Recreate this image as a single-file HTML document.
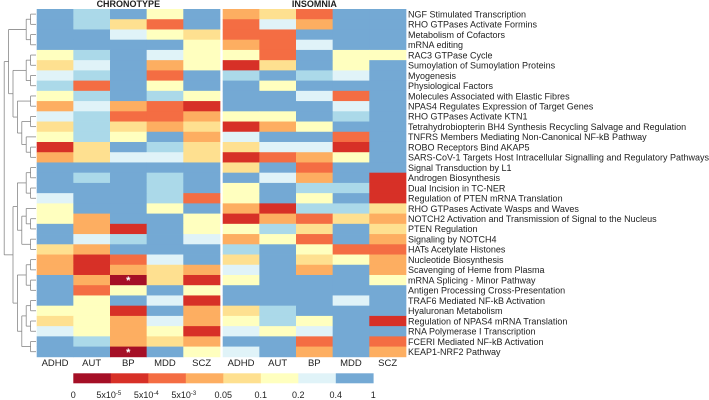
<!DOCTYPE html>
<html><head><meta charset="utf-8"><style>
body{margin:0;background:#fff;}
svg{display:block;font-family:"Liberation Sans",sans-serif;}
</style></head><body>
<svg id="chart" width="709" height="400" viewBox="0 0 709 400"></svg>
<script>
const pathways=["NGF Stimulated Transcription","RHO GTPases Activate Formins","Metabolism of Cofactors","mRNA editing","RAC3 GTPase Cycle","Sumoylation of Sumoylation Proteins","Myogenesis","Physiological Factors","Molecules Associated with Elastic Fibres","NPAS4 Regulates Expression of Target Genes","RHO GTPases Activate KTN1","Tetrahydrobiopterin BH4 Synthesis Recycling Salvage and Regulation","TNFRS Members Mediating Non-Canonical NF-kB Pathway","ROBO Receptors Bind AKAP5","SARS-CoV-1 Targets Host Intracellular Signalling and Regulatory Pathways","Signal Transduction by L1","Androgen Biosynthesis","Dual Incision in TC-NER","Regulation of PTEN mRNA Translation","RHO GTPases Activate Wasps and Waves","NOTCH2 Activation and Transmission of Signal to the Nucleus","PTEN Regulation","Signaling by NOTCH4","HATs Acetylate Histones","Nucleotide Biosynthesis","Scavenging of Heme from Plasma","mRNA Splicing - Minor Pathway","Antigen Processing Cross-Presentation","TRAF6 Mediated NF-kB Activation","Hyaluronan Metabolism","Regulation of NPAS4 mRNA Translation","RNA Polymerase I Transcription","FCERI Mediated NF-kB Activation","KEAP1-NRF2 Pathway"];
const disorders=["ADHD","AUT","BP","MDD","SCZ"];
const groups=["CHRONOTYPE","INSOMNIA"];
// p-value bin index per cell (0 = most significant ... 8 = not significant)
const chronotypeBins=[
[8,7,8,5,8],[8,7,4,2,8],[8,8,6,5,4],[8,8,8,8,5],[5,7,8,6,5],[4,6,8,3,5],[6,7,8,2,8],[7,2,8,5,8],
[5,7,8,7,5],[3,6,3,2,1],[6,7,2,2,3],[4,7,4,3,4],[5,7,5,8,3],[1,4,8,7,4],[3,4,6,6,4],[8,8,8,8,8],
[8,7,8,7,8],[8,8,8,7,8],[6,8,8,7,2],[5,8,8,5,8],[5,3,8,8,5],[8,3,1,8,5],[8,6,7,8,6],[4,3,8,8,8],
[3,1,2,6,8],[3,1,3,4,3],[8,3,0,4,1],[8,2,5,8,5],[8,5,8,6,1],[5,5,1,8,3],[4,5,3,6,3],[6,5,3,5,1],
[8,7,3,4,3],[8,8,0,8,5]];
const insomniaBins=[
[3,4,2,8,8],[2,6,3,8,8],[2,2,8,8,8],[3,2,6,8,8],[5,2,8,5,5],[1,4,8,5,8],[7,8,7,6,8],[8,5,8,8,8],
[8,8,6,2,8],[8,8,8,6,8],[5,5,8,7,8],[1,3,5,8,8],[6,8,8,2,8],[4,6,6,1,8],[1,2,3,5,8],[4,8,2,8,8],
[8,6,3,8,1],[5,8,7,7,1],[5,8,5,8,1],[3,1,7,7,4],[1,3,2,4,3],[5,7,4,8,4],[3,5,2,8,3],[7,8,5,2,2],
[4,8,4,5,3],[6,8,3,8,3],[5,8,8,8,5],[8,8,8,8,8],[8,8,8,6,8],[4,7,8,8,8],[5,7,5,8,1],[6,5,6,8,8],
[8,8,2,8,2],[6,8,3,8,3]];
const stars=[[26,2],[33,2]];
const legendTicks=["0","5x10","5x10","5x10","0.05","0.1","0.2","0.4","1"];
const legendSup=["","-5","-4","-3","","","","",""];
const palette=["#a50f26","#d73027","#f46d43","#fdae61","#fee090","#ffffbf","#e0f3f8","#abd9e9","#74a9d4"];
const legendColors=[0,1,2,3,4,5,6,8];

const NS="http://www.w3.org/2000/svg";
const svg=document.getElementById('chart');
function mk(t,a,p){const e=document.createElementNS(NS,t);for(const k in a)e.setAttribute(k,a[k]);(p||svg).appendChild(e);return e;}
const top0=9,rowH=10.23,colW=36.65;
const groupX=[36.7,222.7];
const yRow=i=>top0+i*rowH;
const xCol=(g,j)=>groupX[g]+j*colW;

const heat=mk('g',{});


[chronotypeBins,insomniaBins].forEach((data,g)=>{
  data.forEach((row,i)=>row.forEach((b,j)=>{
    const r=mk('rect',{x:xCol(g,j),y:yRow(i),width:colW+0.4,height:rowH+0.4,fill:palette[b]},heat);
    
    
  }));
  const t=mk('text',{x:groupX[g]+colW*2.5,y:7,'text-anchor':'middle','font-size':'9','font-weight':'bold',fill:'#222'});
  t.textContent=groups[g];
  
  
  disorders.forEach((d,j)=>{
    const c=mk('text',{x:xCol(g,j)+colW/2,y:366,'text-anchor':'middle','font-size':'9.5',fill:'#222'});
    c.textContent=d;
    
    
  });
});
stars.forEach(([i,j])=>{
  const s=mk('text',{x:xCol(0,j)+colW/2,y:yRow(i)+rowH-1,'text-anchor':'middle','font-size':'11',fill:'#fff','font-weight':'bold'});
  s.textContent='*';
  
  
});
pathways.forEach((p,i)=>{
  const t=mk('text',{x:408,y:yRow(i)+rowH/2+3.3,'font-size':'9',fill:'#222'});
  t.textContent=p;
  
  
});
// dendrogram
const tree=[[[[0,1],[2,3]],[[[4,5],[6,7]],[[8,9],[[10,11],[12,[13,14]]]]]],[[[[15,16],[17,18]],[[19,[20,21]],[22,23]]],[[[24,25],[26,27]],[[[28,29],[30,31]],[32,33]]]]];
const dg=mk('g',{stroke:'#888','stroke-width':'0.8',fill:'none'});


function depth(n){return Array.isArray(n)?1+Math.max(...n.map(depth)):0;}
function draw(n){
  if(!Array.isArray(n))return {x:36,y:yRow(n)+rowH/2};
  const ch=n.map(draw);const x=35-depth(n)*4.4;
  ch.forEach(c=>mk('line',{x1:x,y1:c.y,x2:c.x,y2:c.y},dg));
  const ys=ch.map(c=>c.y);
  mk('line',{x1:x,y1:Math.min(...ys),x2:x,y2:Math.max(...ys)},dg);
  return {x:x,y:(ys[0]+ys[ys.length-1])/2};
}
draw(tree);
// legend
const lg=mk('g',{});


const lx0=73.3,lw=37.5;
legendColors.forEach((c,k)=>{
  const r=mk('rect',{x:lx0+k*lw,y:373.3,width:lw+0.3,height:10,fill:palette[c]},lg);
  
  
});
legendTicks.forEach((t,k)=>{
  const e=mk('text',{x:lx0+k*lw-(legendSup[k]?2:0),y:398,'text-anchor':'middle','font-size':'9',fill:'#222'},lg);
  e.textContent=t;
  if(legendSup[k]){const s=mk('tspan',{dy:'-3','font-size':'6'},e);s.textContent=legendSup[k];}
  
  
});
</script>
</body></html>
